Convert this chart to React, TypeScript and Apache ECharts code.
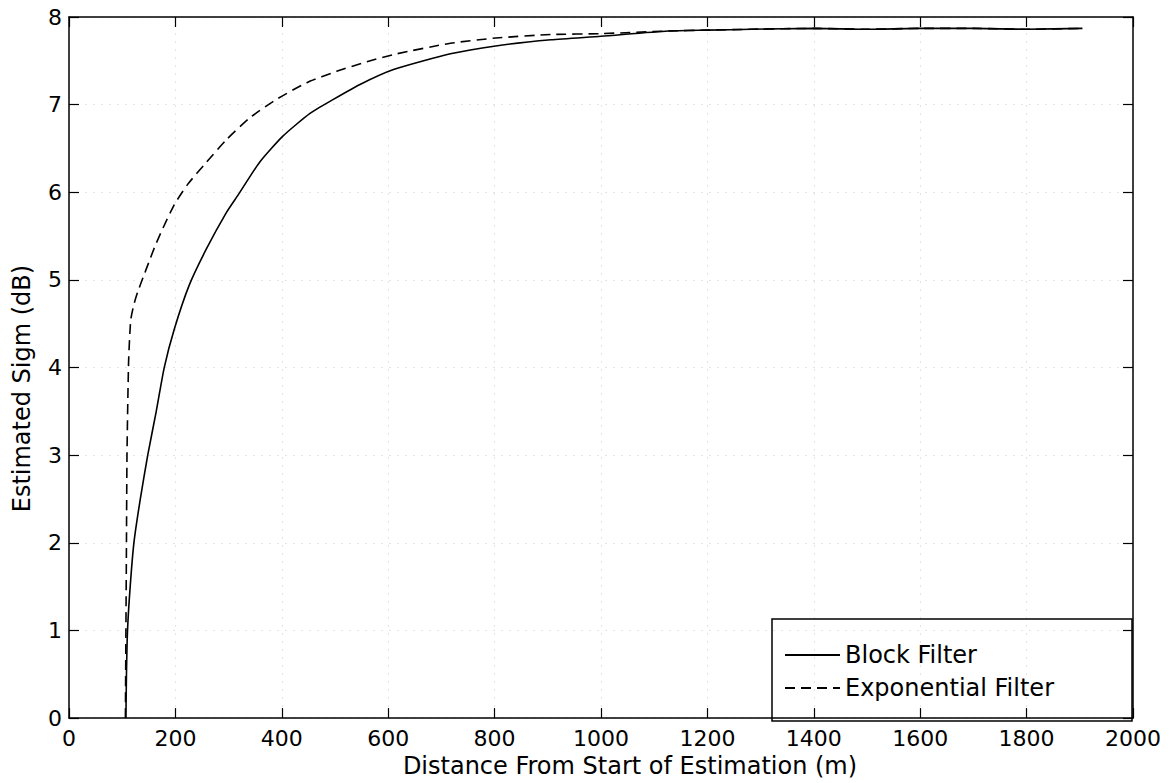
import React, { useEffect, useRef } from "react";
import * as echarts from "echarts";

const blockDistance = [107, 108, 110, 115, 122, 134, 148, 164, 179, 198, 226, 258, 296, 318, 358, 402, 453, 497, 547, 610, 717, 802, 906, 1000, 1126, 1200, 1283, 1400, 1500, 1600, 1700, 1800, 1905];
const blockSigma = [0, 0.5, 1.0, 1.5, 2.0, 2.5, 3.0, 3.5, 4.0, 4.44, 4.94, 5.35, 5.77, 5.97, 6.34, 6.64, 6.9, 7.06, 7.23, 7.4, 7.58, 7.67, 7.74, 7.78, 7.84, 7.85, 7.86, 7.87, 7.86, 7.87, 7.87, 7.86, 7.87];

const expDistance = [106, 107, 108, 109, 112, 116, 122, 129, 140, 150, 162, 175, 198, 223, 258, 296, 340, 390, 447, 503, 560, 616, 717, 802, 906, 1000, 1126, 1200, 1283, 1400, 1500, 1600, 1700, 1800, 1905];
const expSigma = [0, 1.0, 2.0, 3.0, 4.06, 4.54, 4.72, 4.86, 5.04, 5.2, 5.39, 5.57, 5.86, 6.09, 6.34, 6.6, 6.85, 7.06, 7.25, 7.38, 7.49, 7.58, 7.7, 7.76, 7.8, 7.81, 7.84, 7.85, 7.86, 7.87, 7.86, 7.87, 7.87, 7.86, 7.87];

const seriesNames = ["Block Filter", "Exponential Filter"];
const xTitle = "Distance From Start of Estimation (m)";
const yTitle = "Estimated Sigm (dB)";

const FONT = "DejaVu Sans";

export default function App() {
  const ref = useRef<HTMLDivElement>(null);
  useEffect(() => {
    document.body.style.margin = "0";
    const chart = echarts.init(ref.current!, null, { renderer: "svg" });
    const axisLine = { show: true, onZero: false, lineStyle: { color: "#000", width: 1.5 } };
    const tick = { show: true, inside: true, length: 10, lineStyle: { color: "#000", width: 1.2 } };
    const split = { show: true, lineStyle: { color: "#e4e4e4", width: 1, type: [2, 6] as any } };
    chart.setOption({
      animation: false,
      backgroundColor: "#fff",
      grid: { left: 69, right: 37, top: 17, bottom: 62 },
      legend: {
        show: true,
        orient: "vertical",
        left: 772,
        top: 619,
        padding: [24, 78, 21, 12],
        itemGap: 9,
        itemWidth: 55,
        itemHeight: 24,
        borderColor: "#000",
        borderWidth: 1.5,
        selectedMode: false,
        itemStyle: { opacity: 0, color: "transparent", borderColor: "transparent", borderWidth: 0 },
        textStyle: { fontFamily: FONT, fontSize: 24, color: "#000", lineHeight: 24 },
        data: seriesNames,
      },
      xAxis: [
        {
          type: "value",
          min: 0,
          max: 2000,
          interval: 200,
          position: "bottom",
          axisLine,
          axisTick: tick,
          splitLine: split,
          axisLabel: { fontFamily: FONT, fontSize: 22, color: "#000", margin: 9, formatter: (v: number) => String(v) },
          name: xTitle,
          nameLocation: "middle",
          nameGap: 33,
          nameTextStyle: { fontFamily: FONT, fontSize: 24, color: "#000", padding: [0, 0, 0, 58] },
        },
        {
          type: "value",
          min: 0,
          max: 2000,
          interval: 200,
          position: "top",
          axisLine,
          axisTick: tick,
          splitLine: { show: false },
          axisLabel: { show: false },
        },
      ],
      yAxis: [
        {
          type: "value",
          min: 0,
          max: 8,
          interval: 1,
          position: "left",
          axisLine,
          axisTick: tick,
          splitLine: split,
          axisLabel: { fontFamily: FONT, fontSize: 22, color: "#000", margin: 7 },
          name: yTitle,
          nameLocation: "middle",
          nameGap: 35,
          nameTextStyle: { fontFamily: FONT, fontSize: 24, color: "#000", padding: [0, 42, 0, 0] },
        },
        {
          type: "value",
          min: 0,
          max: 8,
          interval: 1,
          position: "right",
          axisLine,
          axisTick: tick,
          splitLine: { show: false },
          axisLabel: { show: false },
        },
      ],
      series: [
        {
          name: seriesNames[1],
          type: "line",
          xAxisIndex: 0,
          yAxisIndex: 0,
          symbol: "none",
          smooth: 0.2,
          data: expDistance.map((d, i) => [d, expSigma[i]]),
          lineStyle: { color: "#000", width: 1.6, type: [10, 6] },
          itemStyle: { color: "#000" },
        },
        {
          name: seriesNames[0],
          type: "line",
          xAxisIndex: 0,
          yAxisIndex: 0,
          symbol: "none",
          smooth: 0.2,
          data: blockDistance.map((d, i) => [d, blockSigma[i]]),
          lineStyle: { color: "#000", width: 1.6, type: "solid" },
          itemStyle: { color: "#000" },
        },
      ],
    });
    return () => chart.dispose();
  }, []);
  return <div ref={ref} style={{ position: "absolute", left: 0, top: 0, width: 1170, height: 783 }} />;
}
